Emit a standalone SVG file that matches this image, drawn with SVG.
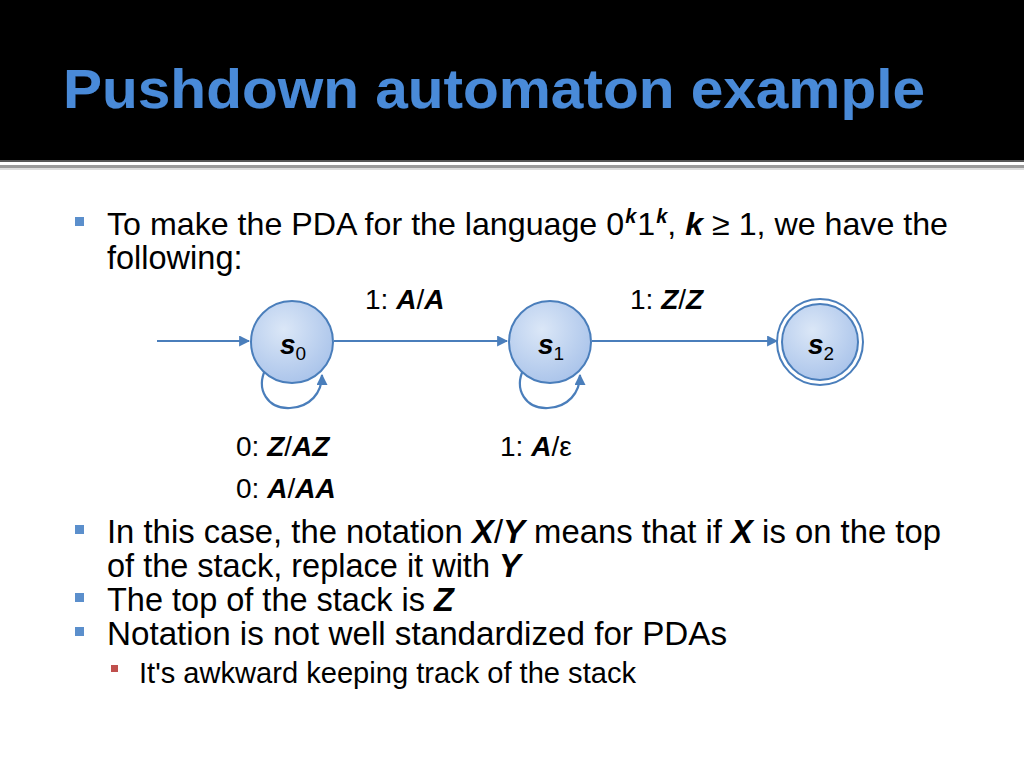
<svg xmlns="http://www.w3.org/2000/svg" width="1024" height="768" viewBox="0 0 1024 768">
<defs>
<radialGradient id="nodeFill" cx="40%" cy="35%" r="70%">
<stop offset="0" stop-color="#dbe7f7"/>
<stop offset="1" stop-color="#a9c3ea"/>
</radialGradient>
<marker id="arr" viewBox="0 0 10 10" refX="9" refY="5" markerWidth="5" markerHeight="5" orient="auto" markerUnits="strokeWidth">
<path d="M0,0 L10,5 L0,10 z" fill="#4a7ebb"/>
</marker>
<filter id="glow" x="-5%" y="-20%" width="110%" height="140%">
<feGaussianBlur in="SourceAlpha" stdDeviation="2"/>
<feOffset dx="1" dy="2"/>
<feComponentTransfer><feFuncA type="linear" slope="0.6"/></feComponentTransfer>
<feMerge><feMergeNode/><feMergeNode in="SourceGraphic"/></feMerge>
</filter>
</defs>
<style>
.body{font-family:"Liberation Sans",Arial,sans-serif;fill:#000}
.big{font-size:32.5px}
.lbl{font-size:28px}
.sub{font-size:29px}
.bi{font-weight:bold;font-style:italic}
.title{font-family:"Liberation Sans",Arial,sans-serif;font-weight:bold;font-size:56px;fill:#4a8ad8}
.node{fill:url(#nodeFill);stroke:#4a7ebb;stroke-width:2}
.edge{fill:none;stroke:#4a7ebb;stroke-width:2.2}
.bul{fill:#5b8fcc}
.bul2{fill:#c0504d}
</style>
<rect x="0" y="0" width="1024" height="768" fill="#ffffff"/>
<rect x="0" y="0" width="1024" height="160" fill="#000000"/>
<rect x="0" y="160" width="1024" height="2" fill="#555555"/>
<rect x="0" y="165" width="1024" height="3" fill="#9a9a9a"/>
<rect x="0" y="168" width="1024" height="2" fill="#dddddd"/>
<text class="title" x="63" y="108" filter="url(#glow)" textLength="862" lengthAdjust="spacingAndGlyphs">Pushdown automaton example</text>

<rect class="bul" x="75" y="217" width="9" height="9"/>
<text class="body" font-size="32.2" x="107" y="235">To make the PDA for the language 0<tspan class="bi" font-size="20" dx="1" dy="-12">k</tspan><tspan dx="1" dy="12">1</tspan><tspan class="bi" font-size="20" dx="1" dy="-12">k</tspan><tspan dy="12">, </tspan><tspan class="bi">k</tspan> ≥ 1, we have the</text>
<text class="body big" x="107" y="269">following:</text>

<g id="connectors">
<line class="edge" x1="157" y1="341" x2="249" y2="341" marker-end="url(#arr)"/>
<line class="edge" x1="334" y1="341" x2="507" y2="341" marker-end="url(#arr)"/>
<line class="edge" x1="592" y1="341" x2="777" y2="341" marker-end="url(#arr)"/>
<path class="edge" d="M266,368 C255,390 268,409 290,408 C310,407 322,393 322,375" marker-end="url(#arr)"/>
<path class="edge" d="M524,368 C513,390 526,409 548,408 C568,407 580,393 580,375" marker-end="url(#arr)"/>
</g>

<g id="s0">
<circle class="node" cx="292" cy="342" r="41"/>
<text class="body" x="280" y="354" font-size="28"><tspan class="bi">s</tspan><tspan font-size="19" dy="6">0</tspan></text>
</g>
<g id="s1">
<circle class="node" cx="550" cy="342" r="41"/>
<text class="body" x="538" y="354" font-size="28"><tspan class="bi">s</tspan><tspan font-size="19" dy="6">1</tspan></text>
</g>
<g id="s2">
<circle cx="820" cy="342" r="43" fill="none" stroke="#4a7ebb" stroke-width="2"/>
<circle class="node" cx="820" cy="342" r="38"/>
<text class="body" x="808" y="354" font-size="28"><tspan class="bi">s</tspan><tspan font-size="19" dy="6">2</tspan></text>
</g>

<text class="body lbl" x="365" y="309">1: <tspan class="bi">A</tspan>/<tspan class="bi">A</tspan></text>
<text class="body lbl" x="630" y="309">1: <tspan class="bi">Z</tspan>/<tspan class="bi">Z</tspan></text>
<text class="body lbl" x="236" y="456">0: <tspan class="bi">Z</tspan>/<tspan class="bi">AZ</tspan></text>
<text class="body lbl" x="236" y="498">0: <tspan class="bi">A</tspan>/<tspan class="bi">AA</tspan></text>
<text class="body lbl" x="500" y="456">1: <tspan class="bi">A</tspan>/ε</text>

<rect class="bul" x="75" y="525" width="9" height="9"/>
<text class="body big" x="107" y="543" textLength="834" lengthAdjust="spacingAndGlyphs">In this case, the notation <tspan class="bi">X</tspan>/<tspan class="bi">Y</tspan> means that if <tspan class="bi">X</tspan> is on the top</text>
<text class="body big" x="107" y="577">of the stack, replace it with <tspan class="bi">Y</tspan></text>
<rect class="bul" x="75" y="593" width="9" height="9"/>
<text class="body big" x="107" y="611">The top of the stack is <tspan class="bi">Z</tspan></text>
<rect class="bul" x="75" y="627" width="9" height="9"/>
<text class="body big" x="107" y="645" textLength="620" lengthAdjust="spacingAndGlyphs">Notation is not well standardized for PDAs</text>
<rect class="bul2" x="111" y="665" width="7" height="7"/>
<text class="body sub" x="139" y="683" textLength="497" lengthAdjust="spacingAndGlyphs">It's awkward keeping track of the stack</text>
</svg>
